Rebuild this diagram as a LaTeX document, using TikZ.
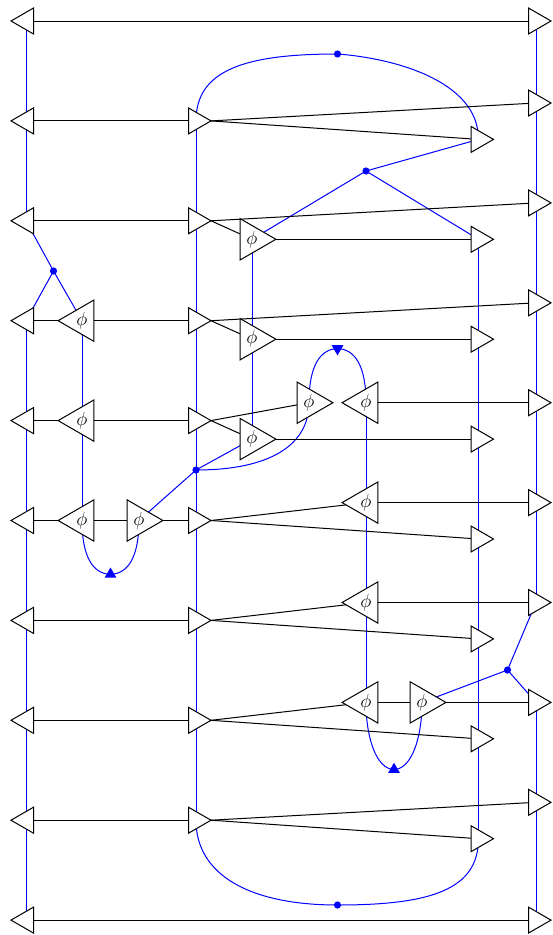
\documentclass[tikz,border=0pt]{standalone}
\usetikzlibrary{shapes.geometric,backgrounds}
\newcommand{\phisym}{\scalebox{1.1}{$\phi$}}
\tikzset{
  x=1pt,y=-1pt,
  wire/.style={black,line width=1pt},
  bwire/.style={blue,line width=1pt},
  tri/.style={regular polygon,regular polygon sides=3,draw=black,fill=white,line width=1pt,inner sep=0pt,outer sep=0pt,minimum size=30pt},
  rtri/.style={tri,shape border rotate=-90},
  ltri/.style={tri,shape border rotate=90},
  phi/.style={minimum size=47.2pt,font=\LARGE},
  bdot/.style={circle,fill=blue,inner sep=0pt,outer sep=0pt,minimum size=7.2pt},
  mark up/.style={regular polygon,regular polygon sides=3,fill=blue,inner sep=0pt,outer sep=0pt,minimum size=13.6pt},
  mark down/.style={mark up,shape border rotate=180}
}
\begin{document}
\begin{tikzpicture}
\useasboundingbox (0,0) rectangle (552,935);
% rows
\foreach \n/\y in {0/21,1/120.9,2/220.8,3/320.7,4/420.6,5/520.5,6/620.4,7/720.3,8/820.2,9/920.1}
  \node[ltri] (L\n) at (26,\y) {};
\foreach \n/\y in {1/120.9,2/220.8,3/320.7,4/420.6,5/520.5,6/620.4,7/720.3,8/820.2}
  \node[rtri] (M\n) at (196,\y) {};
\foreach \n/\y in {0/21,1/103,2/202.9,3/302.8,4/402.7,5/502.6,6/602.5,7/702.4,8/802.3,9/920.1}
  \node[rtri] (R\n) at (536,\y) {};
\foreach \n/\y in {1/139.4,2/239.3,3/339.2,4/439.1,5/539,6/638.9,7/738.8,8/838.7}
  \node[rtri] (T\n) at (478.5,\y) {};
% phi gates
\foreach \n/\y in {2/239.3,3/339.2,4/439.1}
  \node[rtri,phi] (A\n) at (252,\y) {\phisym};
\foreach \n/\y in {3/320.7,4/420.6,5/520.5}
  \node[ltri,phi] (B\n) at (82,\y) {\phisym};
\node[rtri,phi] (C) at (139,520.5) {\phisym};
\node[rtri,phi] (D) at (309,402.7) {\phisym};
\foreach \n/\y in {4/402.7,5/502.6,6/602.5,7/702.4}
  \node[ltri,phi] (E\n) at (366,\y) {\phisym};
\node[rtri,phi] (F) at (422,702.4) {\phisym};
% dots and marks
\node[bdot] (dotTop) at (337.5,54) {};
\node[bdot] (dotBot) at (337.5,905) {};
\node[bdot] (dotS) at (366,171) {};
\node[bdot] (dotL) at (53.5,271) {};
\node[bdot] (dotM) at (196,470) {};
\node[bdot] (dotR) at (507.5,670) {};
\node[mark up] (mA) at (110.5,574.3) {};
\node[mark down] (mB) at (337.5,348.6) {};
\node[mark up] (mC) at (394,769.5) {};
\begin{pgfonlayer}{background}
% blue
\draw[bwire] (L0.center) -- (L2.center);
\draw[bwire] (L2.center) -- (dotL.center);
\draw[bwire] (dotL.center) -- (L3.center);
\draw[bwire] (dotL.center) -- (B3.center);
\draw[bwire] (L3.center) -- (L9.center);
\draw[bwire] (B3.center) -- (B5.center);
\draw[bwire] (B5.center) .. controls (82,555) and (92,574) .. (mA.center);
\draw[bwire] (mA.center) .. controls (129,574) and (139,555) .. (C.center);
\draw[bwire] (C.center) -- (dotM.center);
\draw[bwire] (dotM.center) -- (A4.center);
\draw[bwire] (dotM.center) .. controls (270,470) and (309,445) .. (D.center);
\draw[bwire] (D.center) .. controls (309,366) and (320,349) .. (mB.center);
\draw[bwire] (mB.center) .. controls (355,349) and (366,366) .. (E4.center);
\draw[bwire] (E4.center) -- (E7.center);
\draw[bwire] (E7.center) .. controls (366,737) and (376,769) .. (mC.center);
\draw[bwire] (mC.center) .. controls (412,769) and (422,737) .. (F.center);
\draw[bwire] (F.center) -- (dotR.center);
\draw[bwire] (dotR.center) -- (R6.center);
\draw[bwire] (dotR.center) -- (R7.center);
\draw[bwire] (R0.center) -- (R6.center);
\draw[bwire] (R7.center) -- (R9.center);
\draw[bwire] (A2.center) -- (A4.center);
\draw[bwire] (M1.center) -- (M8.center);
\draw[bwire] (M1.center) .. controls (196,70) and (245,54) .. (dotTop.center);
\draw[bwire] (dotTop.center) .. controls (392,58) and (478.5,80) .. (T1.center);
\draw[bwire] (T1.center) -- (dotS.center);
\draw[bwire] (dotS.center) -- (T2.center);
\draw[bwire] (dotS.center) -- (A2.center);
\draw[bwire] (T2.center) -- (T8.center);
\draw[bwire] (M8.center) .. controls (196,875) and (250,905) .. (dotBot.center);
\draw[bwire] (dotBot.center) .. controls (430,905) and (478.5,890) .. (T8.center);
% black
\draw[wire] (L0.center) -- (R0.center);
\draw[wire] (L9.center) -- (R9.center);
\foreach \n in {1,2,6,7,8} \draw[wire] (L\n.center) -- (M\n.center);
\foreach \n in {3,4} {
  \draw[wire] (L\n.center) -- (B\n.center);
  \draw[wire] (B\n.center) -- (M\n.center);
}
\draw[wire] (L5.center) -- (B5.center);
\draw[wire] (B5.center) -- (C.center);
\draw[wire] (C.center) -- (M5.center);
\foreach \n in {1,2,3,8} \draw[wire] (M\n.corner 1) -- (R\n.center);
\draw[wire] (M1.corner 1) -- (T1.center);
\draw[wire] (M8.corner 1) -- (T8.center);
\foreach \n in {2,3,4} {
  \draw[wire] (M\n.corner 1) -- (A\n.center);
  \draw[wire] (A\n.center) -- (T\n.center);
}
\draw[wire] (M4.corner 1) -- (D.center);
\draw[wire] (E4.center) -- (R4.center);
\foreach \n in {5,6,7} {
  \draw[wire] (M\n.corner 1) -- (E\n.center);
  \draw[wire] (M\n.corner 1) -- (T\n.center);
}
\draw[wire] (E5.center) -- (R5.center);
\draw[wire] (E6.center) -- (R6.center);
\draw[wire] (E7.center) -- (F.center);
\draw[wire] (F.center) -- (R7.center);
\end{pgfonlayer}
\end{tikzpicture}
\end{document}
